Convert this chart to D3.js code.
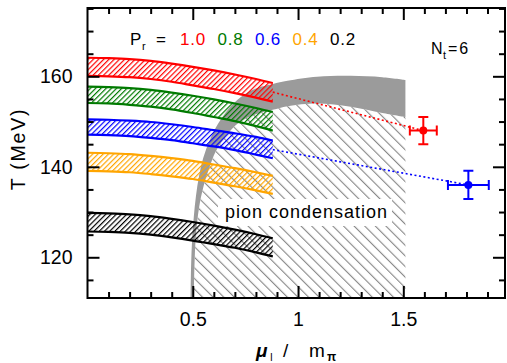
<!DOCTYPE html>
<html><head><meta charset="utf-8">
<script src="https://cdn.jsdelivr.net/npm/d3@7"></script>
<style>html,body{margin:0;padding:0;background:#fff;} svg{display:block;}</style>
</head><body>
<svg id="chart" width="507" height="363"></svg>
<script>
// ---------------- data ----------------
const bandX = [0, 0.1, 0.2, 0.3, 0.4, 0.5, 0.6, 0.7, 0.8, 0.88];
const prLabels = ["1.0", "0.8", "0.6", "0.4", "0.2"];
const bandColors = ["#ff0000", "#007a00", "#0000ff", "#ffa500", "#000000"];
const redUpper    = [164.1, 164.0, 163.8, 163.4, 162.8, 162.1, 161.3, 160.4, 159.4, 158.5];
const redLower    = [160.1, 160.0, 159.8, 159.4, 158.8, 158.0, 157.2, 156.3, 155.3, 154.4];
const greenUpper  = [157.7, 157.6, 157.4, 157.0, 156.4, 155.7, 154.9, 154.0, 153.0, 152.1];
const greenLower  = [154.1, 154.0, 153.7, 153.3, 152.7, 151.9, 151.0, 150.1, 149.0, 148.0];
const blueUpper   = [150.5, 150.4, 150.2, 149.9, 149.4, 148.8, 148.1, 147.4, 146.6, 145.8];
const blueLower   = [147.1, 147.0, 146.8, 146.4, 145.9, 145.2, 144.5, 143.7, 142.7, 141.9];
const orangeUpper = [143.1, 143.0, 142.8, 142.4, 141.9, 141.3, 140.5, 139.7, 138.8, 138.0];
const orangeLower = [139.1, 139.0, 138.8, 138.4, 137.9, 137.3, 136.5, 135.7, 134.8, 134.0];
const blackUpper  = [129.8, 129.7, 129.5, 129.1, 128.5, 127.8, 127.0, 126.1, 125.1, 124.2];
const blackLower  = [125.7, 125.6, 125.4, 125.0, 124.4, 123.7, 122.9, 122.1, 121.1, 120.2];

// gray boundary band (outer / inner edges)
const grayOuterX = [0.49, 0.492, 0.497, 0.505, 0.515, 0.53, 0.55, 0.58, 0.62, 0.67, 0.73, 0.80, 0.88, 0.95, 1.09, 1.25, 1.40, 1.51];
const grayOuterT = [111, 118, 124, 129, 133.5, 138, 142, 145.8, 149.5, 152.8, 155.5, 157.3, 158.3, 159.0, 159.9, 160.1, 159.8, 159.2];
const grayInnerX = [0.505, 0.508, 0.515, 0.53, 0.55, 0.575, 0.61, 0.66, 0.72, 0.80, 0.88, 0.95, 1.09, 1.25, 1.40, 1.51];
const grayInnerT = [111, 118, 125, 131, 135.5, 139.3, 143.5, 147, 149.8, 151.6, 152.6, 153.4, 154.0, 153.3, 151.9, 151.0];
const hatchRightX = 1.51;

// points with error bars
const ptX    = [1.595, 1.809];
const ptT    = [148.0, 136.0];
const ptXerr = [0.064, 0.097];
const ptTerr = [3.0, 3.1];
const ptColors = ["#ff0000", "#0000ff"];
const dotStartX = [0.88, 0.88];
const dotStartT = [156.5, 143.8];

const xMajorTicks = [0.5, 1, 1.5];
const yMajorTicks = [120, 140, 160];

// ---------------- layout ----------------
const L = 87.5, R = 505, T = 8, B = 298;
const x = d3.scaleLinear().domain([0, 1.983]).range([L, R]);
const y = d3.scaleLinear().domain([111, 175.1]).range([B, T]);
const FONT = "'Liberation Sans', Arial, Helvetica, sans-serif";

const svg = d3.select("#chart");
const defs = svg.append("defs");

function hatch(id, color, spacing, angle, width) {
  const p = defs.append("pattern").attr("id", id)
    .attr("patternUnits", "userSpaceOnUse")
    .attr("width", spacing).attr("height", spacing)
    .attr("patternTransform", `rotate(${angle})`);
  p.append("line").attr("x1", 0.6).attr("y1", -1).attr("x2", 0.6).attr("y2", spacing + 1)
    .attr("stroke", color).attr("stroke-width", width);
}
bandColors.forEach((c, i) => hatch("hb" + i, c, 3.7, 45, 1.2));
hatch("hgray", "#7a7a7a", 7.5, -45, 1);

defs.append("clipPath").attr("id", "plotclip").append("rect")
  .attr("x", L).attr("y", T).attr("width", R - L).attr("height", B - T);

const plot = svg.append("g").attr("clip-path", "url(#plotclip)");

// pion condensation hatched region
const crLine = d3.line().x(d => x(d[0])).y(d => y(d[1])).curve(d3.curveCatmullRom.alpha(0.5));
const innerPts = grayInnerX.map((v, i) => [v, grayInnerT[i]]);
const outerPts = grayOuterX.map((v, i) => [v, grayOuterT[i]]);
const innerPath = crLine(innerPts);
plot.append("path")
  .attr("d", innerPath + `L${x(hatchRightX)},${y(111)}Z`)
  .attr("fill", "url(#hgray)");

// white box behind label
plot.append("rect").attr("x", 218).attr("y", 199).attr("width", 174).attr("height", 27).attr("fill", "#fff");

// gray band
const innerRev = crLine(innerPts.slice().reverse());
plot.append("path")
  .attr("d", crLine(outerPts) + "L" + innerRev.slice(1) + "Z")
  .attr("fill", "#9b9b9b");

// label
svg.append("text").attr("x", 225).attr("y", 218)
  .attr("font-family", FONT).attr("font-size", 18).attr("letter-spacing", 1)
  .attr("fill", "#000").text("pion condensation");

// colored bands
const bands = [
  [redUpper, redLower], [greenUpper, greenLower], [blueUpper, blueLower],
  [orangeUpper, orangeLower], [blackUpper, blackLower]
];
const area = d3.area().x((d, i) => x(bandX[i])).curve(d3.curveMonotoneX);
const edge = d3.line().x((d, i) => x(bandX[i])).y(d => y(d)).curve(d3.curveMonotoneX);
bands.forEach((b, k) => {
  const [up, lo] = b;
  plot.append("path")
    .datum(up)
    .attr("d", area.y1(d => y(d)).y0((d, i) => y(lo[i])))
    .attr("fill", `url(#hb${k})`);
  [up, lo].forEach(arr => plot.append("path").attr("d", edge(arr))
    .attr("fill", "none").attr("stroke", bandColors[k]).attr("stroke-width", 2.2));
});

// dotted lines and points
ptX.forEach((px, i) => {
  const c = ptColors[i];
  plot.append("line")
    .attr("x1", x(dotStartX[i])).attr("y1", y(dotStartT[i]))
    .attr("x2", x(px)).attr("y2", y(ptT[i]))
    .attr("stroke", c).attr("stroke-width", 1.6).attr("stroke-dasharray", "2,2.5");
  const g = plot.append("g").attr("stroke", c).attr("stroke-width", 2).attr("fill", c);
  const cx = x(px), cy = y(ptT[i]);
  const x0 = x(px - ptXerr[i]), x1 = x(px + ptXerr[i]);
  const y0 = y(ptT[i] - ptTerr[i]), y1 = y(ptT[i] + ptTerr[i]);
  g.append("line").attr("x1", x0).attr("x2", x1).attr("y1", cy).attr("y2", cy);
  g.append("line").attr("x1", cx).attr("x2", cx).attr("y1", y0).attr("y2", y1);
  g.append("line").attr("x1", x0).attr("x2", x0).attr("y1", cy - 5).attr("y2", cy + 5);
  g.append("line").attr("x1", x1).attr("x2", x1).attr("y1", cy - 5).attr("y2", cy + 5);
  g.append("line").attr("x1", cx - 5).attr("x2", cx + 5).attr("y1", y0).attr("y2", y0);
  g.append("line").attr("x1", cx - 5).attr("x2", cx + 5).attr("y1", y1).attr("y2", y1);
  g.append("circle").attr("cx", cx).attr("cy", cy).attr("r", 4).attr("stroke", "none");
});

// ---------------- axes ----------------
const xMinor = d3.range(1, 20).map(i => i / 10).filter(v => !xMajorTicks.some(m => Math.abs(m - v) < 1e-9));
const yMinor = d3.range(115, 176, 5).filter(v => !yMajorTicks.includes(v));

function styleAxis(g) {
  g.select(".domain").remove();
  g.selectAll("line").attr("stroke", "#000").attr("stroke-width", 2);
  g.selectAll("text").attr("font-family", FONT).attr("font-size", 19.5).attr("fill", "#000");
}
// bottom
svg.append("g").attr("transform", `translate(0,${B})`)
  .call(d3.axisBottom(x).tickValues(xMajorTicks).tickSizeInner(-12).tickSizeOuter(0).tickPadding(14).tickFormat(d3.format("")))
  .call(styleAxis);
svg.append("g").attr("transform", `translate(0,${B})`)
  .call(d3.axisBottom(x).tickValues(xMinor).tickSizeInner(-6).tickSizeOuter(0).tickFormat(""))
  .call(styleAxis);
// top
svg.append("g").attr("transform", `translate(0,${T})`)
  .call(d3.axisTop(x).tickValues(xMajorTicks).tickSizeInner(-12).tickSizeOuter(0).tickFormat(""))
  .call(styleAxis);
svg.append("g").attr("transform", `translate(0,${T})`)
  .call(d3.axisTop(x).tickValues(xMinor).tickSizeInner(-6).tickSizeOuter(0).tickFormat(""))
  .call(styleAxis);
// left
svg.append("g").attr("transform", `translate(${L},0)`)
  .call(d3.axisLeft(y).tickValues(yMajorTicks).tickSizeInner(-12).tickSizeOuter(0).tickPadding(15).tickFormat(d3.format("d")))
  .call(styleAxis);
svg.append("g").attr("transform", `translate(${L},0)`)
  .call(d3.axisLeft(y).tickValues(yMinor).tickSizeInner(-6).tickSizeOuter(0).tickFormat(""))
  .call(styleAxis);
// right
svg.append("g").attr("transform", `translate(${R},0)`)
  .call(d3.axisRight(y).tickValues(yMajorTicks).tickSizeInner(-12).tickSizeOuter(0).tickFormat(""))
  .call(styleAxis);
svg.append("g").attr("transform", `translate(${R},0)`)
  .call(d3.axisRight(y).tickValues(yMinor).tickSizeInner(-6).tickSizeOuter(0).tickFormat(""))
  .call(styleAxis);
// frame
svg.append("rect").attr("x", L).attr("y", T).attr("width", R - L).attr("height", B - T)
  .attr("fill", "none").attr("stroke", "#000").attr("stroke-width", 2);

// ---------------- texts ----------------
// y label
svg.append("text").attr("transform", "translate(24.5,149) rotate(-90)")
  .attr("text-anchor", "middle").attr("font-family", FONT).attr("font-size", 19.5)
  .attr("letter-spacing", 1.8).text("T (MeV)");

// x label
const xl = svg.append("g").attr("font-family", FONT).attr("fill", "#000");
xl.append("text").attr("x", 256).attr("y", 357).attr("font-size", 19).attr("font-weight", "bold").attr("font-style", "italic").text("μ");
xl.append("text").attr("x", 270).attr("y", 361).attr("font-size", 10).text("I");
xl.append("text").attr("x", 283).attr("y", 357).attr("font-size", 19).text("/");
xl.append("text").attr("x", 309).attr("y", 357).attr("font-size", 19).text("m");
xl.append("text").attr("x", 327).attr("y", 361).attr("font-size", 12).attr("font-weight", "bold").text("π");

// legend
const lg = svg.append("g").attr("font-family", FONT).attr("fill", "#000");
lg.append("text").attr("x", 130).attr("y", 45).attr("font-size", 17).text("P");
lg.append("text").attr("x", 142).attr("y", 50).attr("font-size", 11).text("r");
lg.append("text").attr("x", 156).attr("y", 45).attr("font-size", 17).text("=");
prLabels.forEach((t, i) => {
  lg.append("text").attr("x", 180 + i * 37.5).attr("y", 45).attr("font-size", 17)
    .attr("letter-spacing", 0.8).attr("fill", bandColors[i]).text(t);
});
// Nt
lg.append("text").attr("x", 431).attr("y", 54).attr("font-size", 16).text("N");
lg.append("text").attr("x", 443).attr("y", 59).attr("font-size", 11).text("t");
lg.append("text").attr("x", 448).attr("y", 54).attr("font-size", 16).attr("letter-spacing", 2).text("=6");
</script>
</body></html>
